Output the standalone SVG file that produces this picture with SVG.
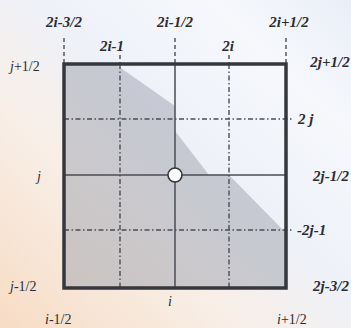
<svg xmlns="http://www.w3.org/2000/svg" width="351" height="328" viewBox="0 0 351 328">
<defs>
<linearGradient id="bg" x1="0" y1="1" x2="1" y2="0">
<stop offset="0" stop-color="#f7dcc4"/>
<stop offset="0.35" stop-color="#f8efe8"/>
<stop offset="0.55" stop-color="#eef1f8"/>
<stop offset="0.8" stop-color="#f6f8fc"/>
<stop offset="1" stop-color="#eaeef7"/>
</linearGradient>
<style>
.dd{stroke:#4a4d55;stroke-width:1.4;fill:none;stroke-dasharray:5,2.5,1.5,2.5}
.ds{stroke:#4a4d55;stroke-width:1.4;fill:none;stroke-dasharray:4,3}
.ln{stroke:#4a4d55;stroke-width:1.5;fill:none}
.bx{stroke:#35373d;stroke-width:3.5;fill:none}
.lb{font-family:"Liberation Serif",serif;font-size:15px;fill:#2a2c33;font-weight:bold;font-style:italic}
.lr{font-family:"Liberation Serif",serif;font-size:14px;fill:#2a2c33}
</style>
</defs>
<rect width="351" height="328" fill="url(#bg)"/>
<g id="region">
<polygon points="64,64 115,64 175,106 175,131 209,175 229,175 285,232 285,288 64,288" fill="#9ea2ad" fill-opacity="0.5"/>
</g>
<g id="connectors">
<line class="ds" x1="64" y1="38" x2="64" y2="64"/>
<line class="ds" x1="175" y1="38" x2="175" y2="64"/>
<line class="ds" x1="286" y1="38" x2="286" y2="64"/>
<line class="ds" x1="120" y1="55" x2="120" y2="64"/>
<line class="ds" x1="229" y1="55" x2="229" y2="64"/>
<line class="dd" x1="120" y1="64" x2="120" y2="288"/>
<line class="dd" x1="229" y1="64" x2="229" y2="288"/>
<line class="dd" x1="64" y1="119" x2="294" y2="119"/>
<line class="dd" x1="64" y1="230" x2="294" y2="230"/>
<line class="ln" x1="175" y1="64" x2="175" y2="288"/>
<line class="ln" x1="64" y1="175" x2="286" y2="175"/>
<rect class="bx" x="64" y="64" width="222" height="224"/>
</g>
<g id="center">
<circle cx="175" cy="175" r="7" fill="#ffffff" stroke="#35373d" stroke-width="1.6"/>
</g>
<g id="labels">
<text class="lb" x="64" y="27" text-anchor="middle">2i-3/2</text>
<text class="lb" x="175" y="27" text-anchor="middle">2i-1/2</text>
<text class="lb" x="289" y="27" text-anchor="middle">2i+1/2</text>
<text class="lb" x="112" y="51" text-anchor="middle">2i-1</text>
<text class="lb" x="228" y="51" text-anchor="middle">2i</text>
<text class="lb" x="330" y="67" text-anchor="middle">2j+1/2</text>
<text class="lb" x="298" y="124">2 j</text>
<text class="lb" x="331" y="181" text-anchor="middle">2j-1/2</text>
<text class="lb" x="297" y="235">-2j-1</text>
<text class="lb" x="331" y="291" text-anchor="middle">2j-3/2</text>
<text class="lr" x="10" y="71"><tspan font-style="italic">j</tspan>+1/2</text>
<text class="lr" x="37" y="181"><tspan font-style="italic">j</tspan></text>
<text class="lr" x="10" y="291"><tspan font-style="italic">j</tspan>-1/2</text>
<text class="lr" x="168" y="306" font-style="italic">i</text>
<text class="lr" x="45" y="324"><tspan font-style="italic">i</tspan>-1/2</text>
<text class="lr" x="277" y="324"><tspan font-style="italic">i</tspan>+1/2</text>
</g>
</svg>
